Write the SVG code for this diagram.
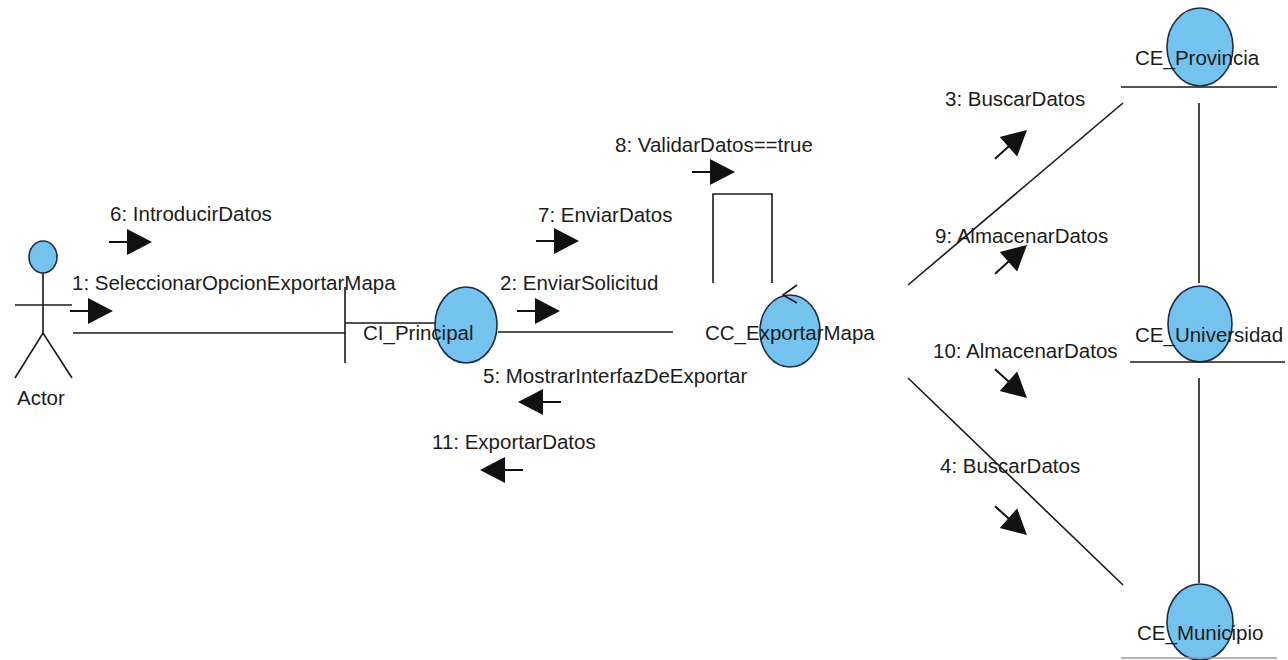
<svg xmlns="http://www.w3.org/2000/svg" xmlns:xlink="http://www.w3.org/1999/xlink" width="1288" height="660" viewBox="0 0 1288 660">
  <style>
    text { font-family: "Liberation Sans", Arial, sans-serif; font-size: 20.5px; fill: #1c1c1c; }
    .obj { fill: #74c3ee; stroke: #1f2d45; stroke-width: 1.6; }
    .ln { fill: none; stroke: #1a1a1a; stroke-width: 1.6; }
    .lnlight { fill: none; stroke: #9a9a9a; stroke-width: 1.4; }
  </style>
  <defs>
    <!-- message arrow: tip at origin, pointing along +x -->
    <g id="msg">
      <line x1="-43" y1="0" x2="-24" y2="0" stroke="#111" stroke-width="2"/>
      <polygon points="-25,-13 0,0 -25,13" fill="#111"/>
    </g>
  </defs>

  <rect width="1288" height="660" fill="#ffffff"/>

  <!-- links between objects -->
  <g id="connectors">
    <line class="ln" x1="73" y1="333" x2="345" y2="333"/>
    <line class="ln" x1="498" y1="332" x2="673" y2="332"/>
    <path class="ln" d="M713,283 V194 H772 V283"/>
    <line class="ln" x1="908" y1="285" x2="1123" y2="103"/>
    <line class="ln" x1="908" y1="378" x2="1123" y2="585"/>
    <line class="ln" x1="1199" y1="103" x2="1199" y2="283"/>
    <line class="ln" x1="1199" y1="378" x2="1199" y2="583"/>
  </g>

  <!-- messages -->
  <g id="messages">
    <use xlink:href="#msg" transform="translate(152,242)"/>
    <text x="110" y="221">6: IntroducirDatos</text>
    <use xlink:href="#msg" transform="translate(113,311)"/>
    <text x="72" y="290">1: SeleccionarOpcionExportarMapa</text>
    <use xlink:href="#msg" transform="translate(579,241)"/>
    <text x="538" y="222">7: EnviarDatos</text>
    <use xlink:href="#msg" transform="translate(560,311)"/>
    <text x="500" y="290">2: EnviarSolicitud</text>
    <use xlink:href="#msg" transform="translate(735,172)"/>
    <text x="615" y="152">8: ValidarDatos==true</text>
    <use xlink:href="#msg" transform="translate(518,402) rotate(180)"/>
    <text x="483" y="383">5: MostrarInterfazDeExportar</text>
    <use xlink:href="#msg" transform="translate(480,470) rotate(180)"/>
    <text x="432" y="449">11: ExportarDatos</text>
    <use xlink:href="#msg" transform="translate(1027,130) rotate(-42)"/>
    <text x="945" y="106">3: BuscarDatos</text>
    <use xlink:href="#msg" transform="translate(1027,245) rotate(-42)"/>
    <text x="935" y="243">9: AlmacenarDatos</text>
    <use xlink:href="#msg" transform="translate(1027,398) rotate(42)"/>
    <text x="933" y="358">10: AlmacenarDatos</text>
    <use xlink:href="#msg" transform="translate(1027,535) rotate(42)"/>
    <text x="940" y="473">4: BuscarDatos</text>
  </g>

  <!-- actor -->
  <g id="actor">
    <ellipse class="obj" cx="43" cy="257" rx="14" ry="16"/>
    <line class="ln" x1="43" y1="273" x2="43" y2="333"/>
    <line class="ln" x1="15" y1="305" x2="72" y2="305"/>
    <polyline class="ln" points="15,378 43,333 72,378"/>
    <text x="17" y="405">Actor</text>
  </g>

  <!-- boundary object -->
  <g id="ci-principal">
    <line class="ln" x1="345" y1="287" x2="345" y2="363"/>
    <line class="ln" x1="345" y1="323" x2="440" y2="323"/>
    <ellipse class="obj" cx="466" cy="325" rx="31" ry="38"/>
    <text x="363" y="340">CI_Principal</text>
  </g>

  <!-- control object, with the open head of its self link -->
  <g id="cc-exportarmapa">
    <ellipse class="obj" cx="790" cy="331" rx="30" ry="36"/>
    <polyline class="ln" points="797,285 783,295 797,303"/>
    <text x="705" y="340">CC_ExportarMapa</text>
  </g>

  <!-- entity objects -->
  <g id="ce-provincia">
    <ellipse class="obj" cx="1200" cy="47" rx="33" ry="39"/>
    <line class="ln" x1="1121" y1="87" x2="1277" y2="87"/>
    <text x="1135" y="65">CE_Provincia</text>
  </g>

  <g id="ce-universidad">
    <ellipse class="obj" cx="1200" cy="324" rx="32" ry="38"/>
    <line class="ln" x1="1130" y1="362" x2="1285" y2="362"/>
    <text x="1135" y="342">CE_Universidad</text>
  </g>

  <g id="ce-municipio">
    <ellipse class="obj" cx="1200" cy="622" rx="33" ry="38"/>
    <line class="lnlight" x1="1121" y1="658" x2="1277" y2="658"/>
    <text x="1137" y="640">CE_Municipio</text>
  </g>
</svg>
